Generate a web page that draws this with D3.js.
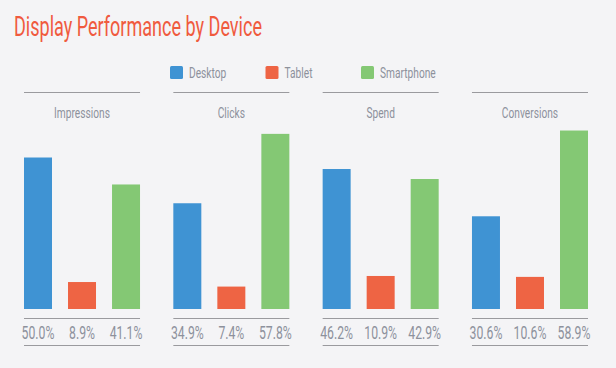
<!DOCTYPE html>
<html><head><meta charset="utf-8">
<script src="https://cdn.jsdelivr.net/npm/d3@7"></script>
<style>
html,body{margin:0;padding:0;background:#f4f4f6;}
svg{display:block;}
text{font-family:"Roboto","DejaVu Sans",sans-serif;}
</style></head>
<body><svg id="c" width="616" height="368"></svg>
<script>
const title = "Display Performance by Device";
const metrics = ["Impressions","Clicks","Spend","Conversions"];
const devices = ["Desktop","Tablet","Smartphone"];
const colors = ["#3f93d3","#ee6444","#84c874"];
const desktop = [50.0, 34.9, 46.2, 30.6];
const tablet = [8.9, 7.4, 10.9, 10.6];
const smartphone = [41.1, 57.8, 42.9, 58.9];
const series = [desktop, tablet, smartphone];

const svg = d3.select("#c");
const W = 616, H = 368;
svg.append("rect").attr("width",W).attr("height",H).attr("fill","#f4f4f6");

const SX = 0.68;
const place = (x, yy) => `translate(${x},${yy}) scale(${SX},1)`;

svg.append("text").attr("x",14).attr("y",36).attr("fill","#f05a3e")
  .attr("font-size",28).attr("textLength",248).attr("lengthAdjust","spacingAndGlyphs").text(title);

const textGray = "#8d919c";
const lineGray = "#9a9a9e";

// legend
const legendX = d3.scalePoint().domain(devices).range([170, 361]);
const lg = svg.append("g").selectAll("g").data(devices).join("g")
  .attr("transform", d => `translate(${legendX(d)},66)`);
lg.append("rect").attr("width",13).attr("height",13).attr("rx",1.5)
  .attr("fill",(d,i)=>colors[i]);
lg.append("text").attr("transform", place(19, 11.5)).attr("font-size",15).attr("fill",textGray).text(d=>d);

const px = d3.scaleBand().domain(metrics).range([24,588]).paddingInner(0.223);
const y = d3.scaleLinear().domain([0,60]).range([309,127.2]);

const panels = svg.append("g").selectAll("g").data(metrics).join("g")
  .attr("transform", d => `translate(${px(d)},0)`);
const bw = px.bandwidth();
const bx = d3.scaleBand().domain(devices).range([0,bw]).paddingInner(0.364);

panels.append("line").attr("x1",0).attr("x2",bw).attr("y1",92.5).attr("y2",92.5).attr("stroke",lineGray).attr("stroke-width",1.2);
panels.append("text").attr("transform", place(bw/2, 118)).attr("text-anchor","middle")
  .attr("font-size",15).attr("fill",textGray).text(d=>d);
panels.append("line").attr("x1",0).attr("x2",bw).attr("y1",318.5).attr("y2",318.5).attr("stroke",lineGray).attr("stroke-width",1.2);
panels.append("line").attr("x1",0).attr("x2",bw).attr("y1",345.5).attr("y2",345.5).attr("stroke",lineGray).attr("stroke-width",1.2);

panels.each(function(m, mi){
  const g = d3.select(this);
  const vals = devices.map((d,i)=>({d, v: series[i][mi], c: colors[i]}));
  g.selectAll("rect.bar").data(vals).join("rect").attr("class","bar")
    .attr("x", o=>bx(o.d)).attr("width", bx.bandwidth())
    .attr("y", o=>y(o.v)).attr("height", o=>y(0)-y(o.v)).attr("fill", o=>o.c);
  g.selectAll("text.pct").data(vals).join("text").attr("class","pct")
    .attr("transform", o=>place(bx(o.d)+bx.bandwidth()/2, 338.5)).attr("text-anchor","middle")
    .attr("font-size",18).attr("fill",textGray).text(o=>o.v.toFixed(1)+"%");
});
</script></body></html>
